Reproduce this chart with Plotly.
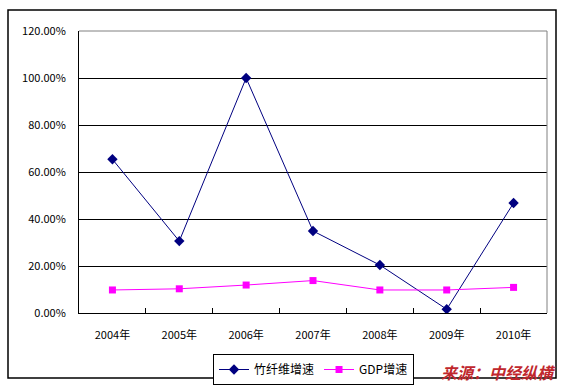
import plotly.graph_objects as go

years = ["2004年", "2005年", "2006年", "2007年", "2008年", "2009年", "2010年"]
bamboo_growth = [0.654, 0.306, 1.000, 0.349, 0.204, 0.016, 0.468]
gdp_growth = [0.098, 0.103, 0.119, 0.138, 0.098, 0.098, 0.109]
y_ticks = [0, 0.2, 0.4, 0.6, 0.8, 1.0, 1.2]

FONT = "Noto Sans CJK SC"

fig = go.Figure()
fig.add_trace(go.Scatter(
    x=years, y=bamboo_growth, name="竹纤维增速", mode="lines+markers",
    line=dict(color="#000080", width=1),
    marker=dict(symbol="diamond", size=8, color="#000080"),
))
fig.add_trace(go.Scatter(
    x=years, y=gdp_growth, name="GDP增速", mode="lines+markers",
    line=dict(color="#ff00ff", width=1),
    marker=dict(symbol="square", size=7, color="#ff00ff"),
))

L, R, T, B = 79, 547, 31, 313
W, H = 563, 385
pw, ph = R - L, B - T

def fx(px):
    return (px - L) / pw

def fy(py):
    return (B - py) / ph

shapes = [
    # outer chart border
    dict(type="rect", xref="paper", yref="paper",
         x0=fx(8), x1=fx(556), y0=fy(378), y1=fy(10),
         line=dict(color="black", width=1.5), layer="below"),
    # gray top/right plot border
    dict(type="line", xref="paper", yref="paper", x0=0, x1=1, y0=1, y1=1,
         line=dict(color="#808080", width=1)),
    dict(type="line", xref="paper", yref="paper", x0=1, x1=1, y0=0, y1=1,
         line=dict(color="#808080", width=1)),
]

fig.update_layout(
    width=W, height=H,
    margin=dict(l=L, r=W - R, t=T, b=H - B, pad=0, autoexpand=False),
    paper_bgcolor="white", plot_bgcolor="white",
    font=dict(family=FONT, size=11, color="black"),
    showlegend=True,
    legend=dict(orientation="h", x=fx(213), y=fy(354), xanchor="left", yanchor="top",
                bgcolor="white", bordercolor="black", borderwidth=1,
                font=dict(family=FONT, size=12), itemwidth=30,
                tracegroupgap=0),
    shapes=shapes,
    annotations=[dict(text="<b><i>来源：中经纵横</i></b>", xref="paper", yref="paper",
                      x=fx(558), y=fy(372), xanchor="right", yanchor="middle",
                      showarrow=False,
                      font=dict(family=FONT, size=16, color="#c0272d"))],
)
fig.update_xaxes(
    type="category", showline=True, linecolor="black", linewidth=1,
    ticks="inside", ticklen=5, tickcolor="black", tickson="boundaries",
    showgrid=False, ticklabelstandoff=12, range=[-0.5, 6.5],
    tickfont=dict(family=FONT, size=11), automargin=False,
)
fig.update_yaxes(
    range=[0, 1.2], tickvals=y_ticks, tickformat=".2%",
    showline=True, linecolor="black", linewidth=1,
    showgrid=True, gridcolor="black", gridwidth=1,
    zeroline=False, ticks="", ticklabelstandoff=10,
    tickfont=dict(family=FONT, size=11), automargin=False,
)

fig.write_html("out.html", config={"displayModeBar": False},
               post_script="document.body.style.margin='0';document.body.style.overflow='hidden';")
